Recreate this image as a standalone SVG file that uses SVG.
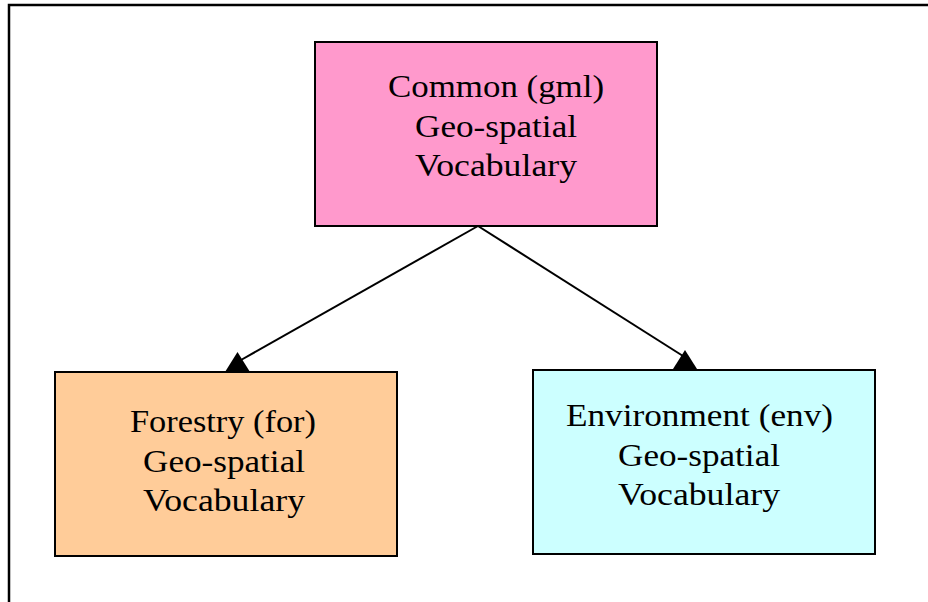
<svg xmlns="http://www.w3.org/2000/svg" width="928" height="602" viewBox="0 0 928 602">
<style>
.box{stroke:#000;stroke-width:2}
.t{font-family:"Liberation Serif","DejaVu Serif",serif;font-size:32px;fill:#000;text-anchor:middle}
.c{stroke:#000;stroke-width:2;fill:none}
.ah{fill:#000}
</style>
<rect x="0" y="0" width="928" height="602" fill="#fff"/>
<path d="M9,602 V5 H928" fill="none" stroke="#000" stroke-width="2.5"/>
<g id="connectors">
<path class="c" d="M478,226 L241,360"/>
<path class="c" d="M478,226 L683,356"/>
<polygon class="ah" points="237.5,352 250,372 225,372"/>
<polygon class="ah" points="685,350 697,369 673,369"/>
</g>
<g id="common">
<rect class="box" x="315" y="42" width="342" height="184" fill="#ff99cc"/>
<text class="t" x="496" y="97" textLength="216" lengthAdjust="spacingAndGlyphs">Common (gml)</text>
<text class="t" x="496" y="137" textLength="162" lengthAdjust="spacingAndGlyphs">Geo-spatial</text>
<text class="t" x="496" y="176" textLength="162" lengthAdjust="spacingAndGlyphs">Vocabulary</text>
</g>
<g id="forestry">
<rect class="box" x="55" y="372" width="342" height="184" fill="#ffcc99"/>
<text class="t" x="223" y="432" textLength="186" lengthAdjust="spacingAndGlyphs">Forestry (for)</text>
<text class="t" x="224" y="472" textLength="162" lengthAdjust="spacingAndGlyphs">Geo-spatial</text>
<text class="t" x="224" y="511" textLength="162" lengthAdjust="spacingAndGlyphs">Vocabulary</text>
</g>
<g id="environment">
<rect class="box" x="533" y="370" width="342" height="184" fill="#ccffff"/>
<text class="t" x="699.5" y="426" textLength="267" lengthAdjust="spacingAndGlyphs">Environment (env)</text>
<text class="t" x="699" y="466" textLength="162" lengthAdjust="spacingAndGlyphs">Geo-spatial</text>
<text class="t" x="699" y="505" textLength="162" lengthAdjust="spacingAndGlyphs">Vocabulary</text>
</g>
</svg>
